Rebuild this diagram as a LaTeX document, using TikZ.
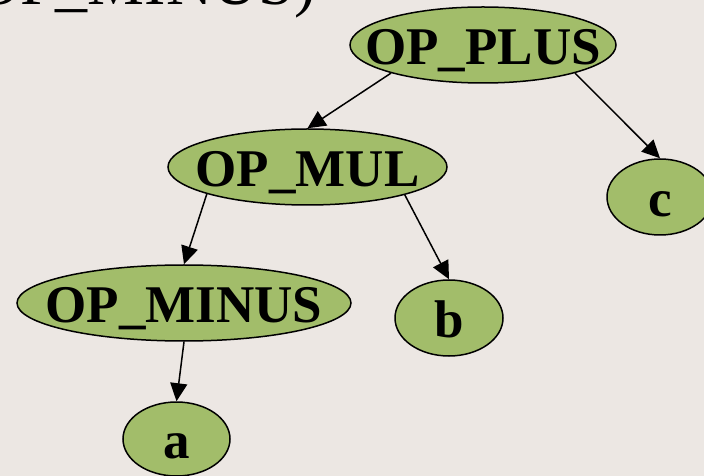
\documentclass[tikz,border=0pt]{standalone}
\usepackage{fontspec}
\setmainfont{Liberation Serif}
\usetikzlibrary{shapes.geometric,arrows.meta}
\definecolor{astgreen}{RGB}{162,189,106}
\definecolor{slidebg}{RGB}{236,231,227}
\tikzset{
  astnode/.style={ellipse, draw, fill=astgreen, line width=1.5bp, inner sep=0pt,
    minimum height=76bp, text height=39bp, text depth=0pt,
    font=\fontsize{53bp}{60bp}\selectfont\bfseries},
  astedge/.style={line width=1.5bp, -{Triangle[length=18bp,width=17bp]}}
}
\newcommand{\tok}[1]{\makebox[0pt]{#1}}

\begin{document}
\begin{tikzpicture}[x=1bp,y=-1bp]
\useasboundingbox (0,0) rectangle (704,476);
\clip (0,0) rectangle (704,476);
\fill[slidebg] (0,0) rectangle (704,476); % slide background

% caption line running off the top edge
\node[anchor=base west, inner sep=0pt, font=\fontsize{64bp}{70bp}\selectfont] (caption) at (-26,5) {OP\_MINUS)};

% Tree nodes
\node[astnode, minimum width=266bp] (plus) at (483,45) {\tok{OP\_PLUS}};
\node[astnode, minimum width=279bp] (mul) at (307.5,167) {\tok{OP\_MUL}};
\node[astnode, minimum width=334bp] (minus) at (184,303) {\tok{OP\_MINUS}};
\node[astnode, minimum width=107bp, minimum height=74bp] (a) at (176.5,439) {\tok{a}};
\node[astnode, minimum width=108bp] (b) at (449,318) {\tok{b}};
\node[astnode, minimum width=106bp] (c) at (660,197) {\tok{c}};

% Edges parent -> child
\draw[astedge] (plus.197) -- (mul.north);
\draw[astedge] (plus.-17) -- (c.north);
\draw[astedge] (mul.195) -- (minus.north);
\draw[astedge] (mul.-16) -- (b.north);
\draw[astedge] (minus.south) -- (a.north);

\end{tikzpicture}
\end{document}
